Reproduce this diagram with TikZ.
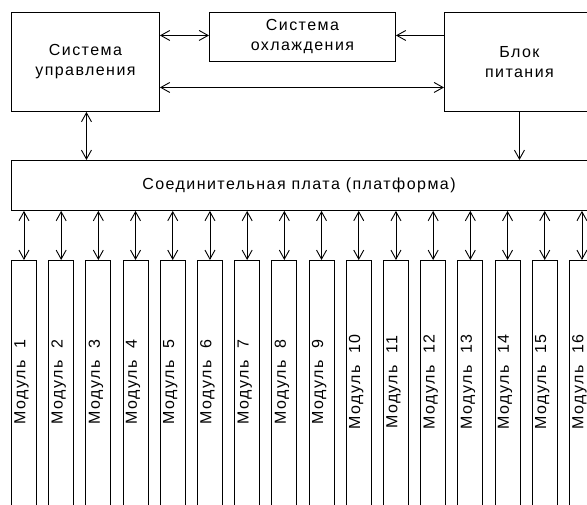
\documentclass[tikz,border=0pt]{standalone}
\usepackage{fontspec}
\setmainfont{Liberation Sans}[LetterSpace=9]
\usetikzlibrary{arrows.meta,calc}
\begin{document}
\begin{tikzpicture}[x=1pt,y=-1pt,
  box/.style={draw, line width=0.9pt, inner sep=0pt, anchor=north west, align=center},
  lbl/.style={inner sep=0pt, align=center},
  conn/.style={line width=0.9pt},
  dbl/.style={conn, {Straight Barb[length=9pt,width=10pt]}-{Straight Barb[length=9pt,width=10pt]}},
  one/.style={conn, -{Straight Barb[length=9pt,width=10pt]}},
  font=\fontsize{16}{20}\selectfont]
\useasboundingbox (0,0) rectangle (587,504);
\clip (0,0) rectangle (587,504);
\node[box, minimum width=148pt, minimum height=99pt] (ctrl) at (11,12) {Система\\управления};
\node[box, minimum width=186pt, minimum height=49pt] (cool) at (209,12) {Система\\охлаждения};
\node[box, minimum width=150pt, minimum height=99pt] (pwr) at (444,12) {Блок\\питания};
\node[box, minimum width=590pt, minimum height=50pt] (plat) at (11,160) {};
\node[lbl] (plattext) at (299,185) {Соединительная плата (платформа)};
\foreach \i in {1,...,16} {
  \node[box, minimum width=25pt, minimum height=260pt] (m\i) at ({11+37.2*(\i-1)},260) {};
  \node[lbl, rotate=90] (t\i) at ({21.5+37.2*(\i-1)},382) {Модуль\ \ \i};
  \draw[dbl] (m\i.north |- plat.south) -- (m\i.north);
}
\draw[dbl] ([yshift=1.5pt]ctrl.east |- cool.west) -- ([yshift=1.5pt]cool.west);
\draw[one] ([yshift=1.5pt]cool.east -| pwr.west) -- ([yshift=1.5pt]cool.east);
\draw[dbl] ([yshift=-25.5pt]ctrl.east) -- ([yshift=-25.5pt]ctrl.east -| pwr.west);
\draw[dbl] ([xshift=1pt]ctrl.south) -- ([xshift=1pt]ctrl.south |- plat.north);
\draw[one] (pwr.south) -- (pwr.south |- plat.north);
\end{tikzpicture}
\end{document}
